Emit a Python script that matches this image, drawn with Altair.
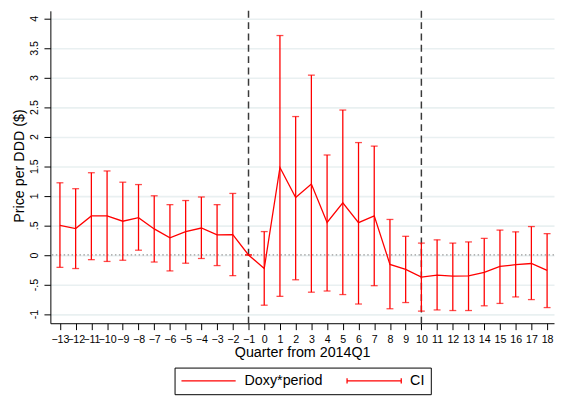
import altair as alt
import pandas as pd

# ---- data ----
quarters = list(range(-13, 19))
estimate = [0.50, 0.445, 0.66, 0.66, 0.57, 0.63, 0.44, 0.29, 0.395, 0.455, 0.34, 0.345,
            0.0,
            -0.23, 1.48, 0.97, 1.20, 0.55, 0.88, 0.545, 0.66, -0.16, -0.245, -0.375,
            -0.34, -0.36, -0.355, -0.295, -0.195, -0.165, -0.145, -0.26]
ci_upper = [1.22, 1.12, 1.39, 1.42, 1.23, 1.19, 1.00, 0.85, 0.92, 0.98, 0.85, 1.04,
            0.0,
            0.395, 3.71, 2.34, 3.04, 1.69, 2.45, 1.90, 1.84, 0.60, 0.315, 0.20,
            0.255, 0.20, 0.22, 0.28, 0.42, 0.39, 0.48, 0.36]
ci_lower = [-0.21, -0.23, -0.08, -0.11, -0.09, 0.08, -0.12, -0.27, -0.14, -0.06, -0.18, -0.35,
            0.0,
            -0.85, -0.70, -0.42, -0.63, -0.61, -0.67, -0.83, -0.52, -0.91, -0.805, -0.95,
            -0.93, -0.94, -0.94, -0.86, -0.82, -0.71, -0.755, -0.89]
y_ticks = [-1, -0.5, 0, 0.5, 1, 1.5, 2, 2.5, 3, 3.5, 4]
y_tick_labels = ["-1", "-.5", "0", ".5", "1", "1.5", "2", "2.5", "3", "3.5", "4"]
event_quarters = [-1, 10]
series_names = ["Doxy*period", "CI"]

df = pd.DataFrame({"q": quarters, "est": estimate, "lo": ci_lower, "hi": ci_upper})
vlines = pd.DataFrame({"x": event_quarters})
zero = pd.DataFrame({"y": [0]})
legend_df = pd.DataFrame({"series": series_names})

FONT = "Liberation Sans"
RED = "#ff0000"

label_expr = ""
for v, lab in zip(y_ticks, y_tick_labels):
    label_expr += f"abs(datum.value - ({v})) < 1e-6 ? '{lab}' : "
label_expr += "''"

x_scale = alt.Scale(domain=[-13.608, 18.44], nice=False, zero=False)
y_scale = alt.Scale(domain=[-1.155, 4.128], nice=False, zero=False)

x_axis = alt.Axis(
    title="Quarter from 2014Q1", values=quarters, labelOverlap=False, labelFlush=False,
    grid=False, tickSize=6.5, labelPadding=4.5, labelFontSize=10.8, labelFont=FONT,
    labelColor="black", titleFont=FONT, titleFontSize=14.5, titleFontWeight="normal",
    titleColor="black", titleBaseline="alphabetic", titleX=255.5, titleY=33.3,
    titleAlign="center", domainColor="black", tickColor="black", domainWidth=1,
)
y_axis = alt.Axis(
    title="Price per DDD ($)", values=y_ticks, labelExpr=label_expr, labelAngle=270,
    labelAlign="center", labelBaseline="alphabetic", labelOverlap=False, labelFlush=False,
    tickSize=6.5, labelPadding=7, labelFontSize=10.8, labelFont=FONT, labelColor="black",
    grid=True, gridColor="#e9f0f1", gridWidth=1.6,
    titleFont=FONT, titleFontSize=14.5, titleFontWeight="normal", titleColor="black",
    titleAngle=270, titleBaseline="alphabetic", titleAlign="center",
    titleX=-27.7, titleY=157, domainColor="black", tickColor="black", domainWidth=1,
)

X = lambda f: alt.X(f, scale=x_scale, axis=x_axis)
Y = lambda f: alt.Y(f, scale=y_scale, axis=y_axis)

zero_rule = alt.Chart(zero).mark_rule(
    color="#9a9a9a", strokeWidth=1.2, strokeDash=[1.5, 2.5]
).encode(y=Y("y:Q"))

event_rules = alt.Chart(vlines).mark_rule(
    color="#3a3a3a", strokeWidth=1.5, strokeDash=[7, 4.5]
).encode(x=X("x:Q"))

bars = alt.Chart(df).mark_rule(color=RED, strokeWidth=1.3).encode(
    x=X("q:Q"), y=Y("lo:Q"), y2="hi:Q"
)
cap_lo = alt.Chart(df).mark_tick(color=RED, orient="horizontal", size=7, thickness=1.3).encode(
    x=X("q:Q"), y=Y("lo:Q")
)
cap_hi = alt.Chart(df).mark_tick(color=RED, orient="horizontal", size=7, thickness=1.3).encode(
    x=X("q:Q"), y=Y("hi:Q")
)
line = alt.Chart(df).mark_line(color=RED, strokeWidth=1.3).encode(
    x=X("q:Q"), y=Y("est:Q")
)

ci_path = "M-1,-0.1L-1,0.1M-1,0L1,0M1,-0.1L1,0.1"
legend_layer = alt.Chart(legend_df).mark_point(opacity=0, filled=False, color=RED).encode(
    x=alt.value(0), y=alt.value(0),
    shape=alt.Shape(
        "series:N",
        scale=alt.Scale(domain=series_names, range=["stroke", ci_path]),
        legend=alt.Legend(
            title=None, orient="none", legendX=126, legendY=362, direction="horizontal",
            strokeColor="black", padding=6, symbolSize=3025, clipHeight=15,
            symbolStrokeColor=RED, symbolStrokeWidth=1.3, symbolOpacity=1,
            symbolFillColor="transparent", symbolOffset=0,
            labelFont=FONT, labelFontSize=14.5, labelColor="black", labelOffset=8,
            columnPadding=24, labelLimit=0,
        ),
    ),
)

chart = alt.layer(
    zero_rule, event_rules, bars, cap_lo, cap_hi, line, legend_layer
).properties(
    width=511, height=317,
    autosize=alt.AutoSizeParams(type="none"),
    padding={"left": 43, "top": 0, "right": 1, "bottom": 73},
    background="white",
).configure_view(stroke=None)

chart.save("out.html", embed_options={"renderer": "svg", "actions": False})
